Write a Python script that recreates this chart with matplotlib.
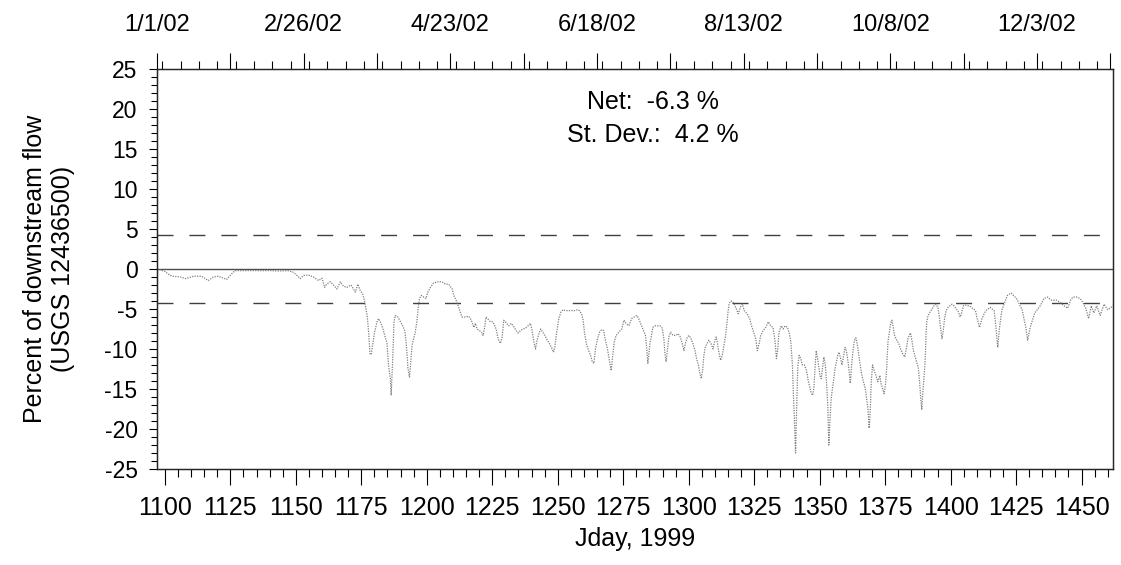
#!/usr/bin/env python

import numpy as np
import matplotlib
matplotlib.use('Agg')
import matplotlib.pyplot as plt
from matplotlib.ticker import MultipleLocator, FixedLocator, FuncFormatter

plt.rcParams['font.family'] = ['Liberation Sans', 'DejaVu Sans']
plt.rcParams['axes.unicode_minus'] = False

# flow difference as percent of downstream gauge, by julian day (1999 base)
jday = [1097, 1098, 1100, 1102, 1103, 1106, 1108, 1111, 1114, 1116.6, 1118.5, 1120.4,
        1123.6, 1125.5, 1126.8, 1129.3, 1133, 1137, 1140.8, 1143.3, 1147, 1149, 1150.4,
        1151.7, 1153, 1154.8, 1156.7, 1158.7, 1160, 1161, 1161.8, 1163.1, 1164.4, 1165.7,
        1167, 1168.2, 1169.5, 1171.1, 1172.7, 1173.7, 1174.6, 1175.5, 1176.2, 1176.8,
        1177.3, 1177.8, 1178.3, 1178.8, 1179.3, 1180.1, 1181, 1181.6, 1182.2, 1183.1,
        1184.1, 1184.8, 1185.4, 1186.1, 1186.4, 1186.9, 1187.2, 1187.5, 1188, 1189, 1190,
        1190.8, 1191.6, 1192.1, 1192.5, 1192.8, 1193.4, 1193.9, 1194.4, 1195, 1195.6,
        1196.2, 1196.7, 1197.2, 1197.9, 1198.8, 1199.7, 1200.4, 1201.4, 1202.6, 1204.3,
        1205.8, 1207.1, 1208.4, 1209.7, 1210.3, 1211.2, 1212, 1212.8, 1213.5, 1214.8,
        1216, 1217, 1218, 1218.6, 1219.2, 1220.1, 1220.9, 1221.5, 1222.1, 1222.6, 1223.2,
        1224.3, 1225.2, 1226, 1226.6, 1227.2, 1228.1, 1228.8, 1229.4, 1230, 1231.3,
        1232.3, 1233.4, 1234.1, 1234.9, 1235.8, 1236.7, 1237.7, 1238.7, 1239.6, 1240.2,
        1240.9, 1241.5, 1242.1, 1242.8, 1243.5, 1244.3, 1245.1, 1246, 1246.8, 1247.6,
        1248.4, 1248.9, 1249.4, 1249.9, 1250.4, 1251.2, 1251.9, 1253, 1254.2, 1255.5,
        1256.5, 1257.5, 1258.3, 1259.1, 1259.7, 1260.2, 1260.9, 1261.6, 1262.5, 1263.2,
        1263.8, 1264.4, 1265.2, 1266, 1266.7, 1267.5, 1268.2, 1269, 1269.8, 1270.4, 1271,
        1271.6, 1272.3, 1273.3, 1274.4, 1275.3, 1276.1, 1277.2, 1278.2, 1279.2, 1280.2,
        1281.2, 1281.6, 1282.5, 1283.5, 1284, 1284.4, 1284.8, 1285.3, 1285.8, 1286.3,
        1287.1, 1288.1, 1289.1, 1289.9, 1290.5, 1291, 1291.4, 1291.9, 1292.4, 1293.1,
        1294, 1295, 1296, 1296.8, 1297.5, 1298.2, 1298.8, 1299.5, 1300.1, 1300.9, 1301.6,
        1302.4, 1303, 1303.7, 1304.3, 1304.8, 1305.3, 1305.8, 1306.3, 1307, 1307.7,
        1308.5, 1309.3, 1310, 1310.5, 1311, 1311.5, 1312.2, 1312.8, 1313.5, 1314.1,
        1314.6, 1315, 1315.4, 1316, 1316.6, 1317.4, 1318.2, 1318.9, 1319.7, 1320.5,
        1321.2, 1322.3, 1323.3, 1324, 1324.8, 1325.6, 1326.2, 1326.9, 1327.5, 1328.4,
        1329.4, 1330.4, 1331.3, 1332.2, 1333, 1333.5, 1334, 1334.5, 1335.3, 1336.1,
        1336.8, 1337.7, 1338.3, 1339, 1339.6, 1340, 1340.4, 1340.8, 1341.1, 1341.4,
        1341.7, 1342.2, 1342.8, 1343.4, 1344.2, 1345, 1345.6, 1346.2, 1346.7, 1347.3,
        1347.8, 1348.3, 1348.7, 1349, 1349.6, 1350.1, 1350.6, 1351.1, 1351.6, 1352.1,
        1352.6, 1353.1, 1353.5, 1353.9, 1354.4, 1354.9, 1355.4, 1355.9, 1356.4, 1356.9,
        1357.4, 1358, 1358.5, 1359.2, 1359.7, 1360.2, 1361, 1361.7, 1362.3, 1362.8,
        1363.3, 1363.8, 1364.3, 1364.8, 1365.3, 1365.9, 1366.4, 1366.9, 1367.4, 1367.9,
        1368.4, 1368.9, 1369.3, 1369.7, 1370.2, 1370.8, 1371.5, 1372.2, 1373, 1373.4,
        1374, 1374.6, 1375.1, 1375.6, 1375.8, 1376.1, 1376.6, 1377.1, 1377.6, 1378.1,
        1378.6, 1379.4, 1380.2, 1380.9, 1381.7, 1382.5, 1383.2, 1383.7, 1384.2, 1384.7,
        1385.3, 1385.8, 1386.3, 1387, 1387.7, 1388.2, 1388.6, 1389, 1389.3, 1389.7,
        1390.1, 1390.4, 1390.6, 1390.9, 1391.4, 1392.1, 1392.9, 1393.7, 1394.4, 1395.2,
        1395.7, 1396.2, 1396.7, 1397.2, 1397.7, 1398.3, 1399, 1399.8, 1400.5, 1401.3,
        1402.1, 1402.8, 1403.6, 1404.1, 1404.9, 1405.6, 1406.4, 1407.2, 1407.9, 1408.7,
        1409.5, 1410, 1410.5, 1411, 1411.5, 1412, 1412.8, 1413.5, 1414.3, 1415.1, 1415.8,
        1416.6, 1417.1, 1417.6, 1418, 1418.6, 1419.6, 1421.7, 1423.1, 1425.2, 1427.3,
        1428.7, 1429.4, 1430.4, 1432.1, 1434.2, 1435.6, 1437, 1438.4, 1440.5, 1441.9,
        1443.3, 1444.7, 1445.8, 1446.7, 1448.1, 1449.5, 1450.5, 1451.6, 1452.7, 1453.7,
        1454.7, 1455.8, 1457.1, 1458.6, 1460, 1462]

pct = [0.0, -0.1, -0.3, -0.8, -0.9, -1.0, -1.2, -0.9, -0.9, -1.45, -1.0, -0.9,
       -1.3, -0.6, -0.2, -0.2, -0.2, -0.2, -0.2, -0.25, -0.2, -0.4, -0.8,
       -1.2, -0.8, -0.75, -1.0, -1.45, -1.15, -2.3, -1.9, -1.6, -2.0, -2.5,
       -1.6, -2.15, -2.3, -2.0, -2.9, -1.9, -2.7, -3.1, -3.9, -5.0,
       -6.0, -7.9, -10.6, -10.7, -9.5, -7.9, -6.6, -6.2, -6.6, -7.3,
       -8.5, -9.3, -12.0, -13.7, -15.8, -12.0, -9.1, -6.6, -5.8, -6.0, -6.6,
       -7.1, -7.7, -9.1, -10.8, -12.4, -13.5, -11.6, -9.5, -8.7, -7.9,
       -6.6, -5.0, -3.7, -3.3, -3.5, -3.7, -2.9, -2.3, -1.75, -1.6,
       -1.6, -1.9, -1.9, -2.5, -3.3, -3.9, -4.6, -5.4, -6.0, -6.0,
       -5.9, -6.4, -7.3, -6.8, -7.5, -7.7, -7.9, -8.3, -7.3, -6.0, -6.2,
       -6.6, -6.6, -7.1, -7.7, -8.7, -9.3, -8.5, -6.4, -6.6, -7.1,
       -6.8, -7.3, -7.7, -8.0, -7.7, -7.5, -7.4, -7.1, -6.8, -7.7,
       -9.1, -10.0, -8.9, -8.1, -7.5, -7.9, -8.3, -8.9, -9.3, -9.8,
       -10.4, -9.8, -8.3, -7.3, -6.2, -5.4, -5.1, -5.2, -5.2, -5.2,
       -5.2, -5.1, -5.2, -5.6, -6.4, -7.9, -9.3, -10.0, -10.8, -11.6,
       -11.8, -10.0, -8.7, -7.9, -7.6, -7.7, -8.9, -10.0, -11.6, -12.7, -10.8,
       -9.1, -8.3, -7.9, -7.5, -6.4, -6.8, -7.1, -6.2, -6.0, -5.8,
       -6.4, -6.8, -7.5, -8.3, -10.0, -11.8, -10.6, -9.1, -8.3, -7.3,
       -7.1, -7.1, -7.1, -7.4, -8.7, -10.8, -11.6, -10.0, -8.5, -7.9,
       -8.3, -8.3, -8.1, -8.5, -9.3, -10.2, -9.2, -8.5, -8.3, -8.7, -9.3,
       -10.2, -11.2, -12.0, -13.1, -13.7, -12.7, -10.8, -9.8, -9.3, -8.9,
       -9.3, -10.0, -8.9, -8.5, -9.3, -10.4, -11.4, -10.8, -9.5, -8.3,
       -6.8, -5.4, -4.4, -4.0, -4.0, -4.4, -5.0, -5.6, -4.8, -4.4,
       -5.2, -5.6, -6.2, -7.1, -7.9, -8.7, -10.2, -9.3, -8.3, -7.7,
       -7.3, -6.6, -7.1, -7.3, -9.1, -11.2, -10.0, -7.9, -7.1, -7.5,
       -7.1, -7.3, -7.9, -9.1, -12.0, -15.8, -19.1, -23.0, -19.1, -15.0,
       -12.0, -10.8, -11.2, -12.0, -12.0, -12.7, -13.9, -14.7, -15.4, -15.8,
       -14.9, -12.0, -10.2, -10.8, -12.0, -13.3, -13.7, -12.4, -11.0, -11.8,
       -14.1, -17.0, -22.0, -19.1, -16.2, -14.9, -13.7, -12.4, -11.6, -10.8,
       -10.4, -11.2, -12.0, -10.8, -9.8, -10.2, -12.0, -14.3, -11.6, -10.0,
       -8.9, -8.6, -9.3, -10.4, -11.6, -12.9, -13.7, -14.3, -14.9, -16.2,
       -17.4, -19.9, -17.8, -14.1, -12.0, -12.7, -13.3, -14.1, -13.3, -14.3,
       -14.9, -15.6, -14.5, -12.4, -10.8, -9.1, -7.9, -6.8, -6.4, -7.3,
       -8.3, -8.9, -9.3, -10.0, -10.6, -11.0, -9.8, -8.7, -8.3, -8.0,
       -9.1, -10.2, -10.8, -11.6, -12.4, -14.3, -16.2, -17.6, -15.8, -14.1,
       -12.4, -10.4, -8.3, -6.6, -5.8, -5.4, -5.0, -4.6, -4.4, -4.8,
       -6.0, -7.5, -8.7, -7.7, -6.2, -5.2, -4.8, -4.6, -4.4, -4.6,
       -5.0, -5.2, -6.0, -5.6, -4.6, -4.5, -4.6, -4.6, -4.8, -5.0,
       -5.2, -6.0, -6.6, -7.3, -6.8, -6.2, -5.6, -5.2, -5.0, -4.8, -5.0,
       -5.2, -6.6, -8.3, -9.8, -7.5, -5.1, -3.3, -3.0, -3.7, -5.1,
       -7.3, -8.9, -7.3, -5.5, -4.6, -3.7, -3.5, -3.9, -3.9, -4.2,
       -4.6, -4.9, -3.9, -3.5, -3.5, -3.7, -4.2, -4.9, -6.2, -4.6,
       -5.5, -4.6, -5.8, -4.4, -5.1, -4.6]

net = -6.3
stdev = 4.2

# top axis: calendar dates every 8 weeks starting jday 1097
date_ticks = [1097, 1153, 1209, 1265, 1321, 1377, 1433]
date_labels = ['1/1/02', '2/26/02', '4/23/02', '6/18/02', '8/13/02', '10/8/02', '12/3/02']

fig = plt.figure(figsize=(11.21, 5.65), dpi=100)
ax = fig.add_axes([157/1121, 1 - 469/565, 956/1121, 400/565])

ax.axhline(0, color='0.3', lw=1.0)
for s in (stdev, -stdev):
    ax.axhline(s, color='0.25', lw=1.0, dashes=(11.5, 11.5))
ax.plot(jday, pct, color='0.5', lw=0.9, ls=(0, (1, 1)))

ax.set_xlim(1097, 1462)
ax.set_ylim(-25, 25)

ax.xaxis.set_major_locator(MultipleLocator(25))
ax.xaxis.set_minor_locator(MultipleLocator(5))
ax.yaxis.set_major_locator(MultipleLocator(5))
ax.yaxis.set_minor_locator(MultipleLocator(1))
ax.tick_params(axis='x', which='major', length=11.5, width=0.8, pad=8, labelsize=18)
ax.tick_params(axis='x', which='minor', length=6, width=0.8)
ax.tick_params(axis='y', which='major', length=6, width=0.8, pad=8, labelsize=16.5)
ax.tick_params(axis='y', which='minor', length=4.5, width=0.8)

top = ax.twiny()
top.set_xlim(ax.get_xlim())
top.xaxis.set_major_locator(FixedLocator(np.arange(1097, 1463, 28)))
top.xaxis.set_minor_locator(MultipleLocator(7))
date_map = dict(zip(date_ticks, date_labels))
top.xaxis.set_major_formatter(FuncFormatter(lambda v, i: date_map.get(int(round(v)), '')))
top.tick_params(axis='x', which='major', length=11.5, width=0.8, pad=12, labelsize=17)
top.tick_params(axis='x', which='minor', length=6, width=0.8)

for a in (ax, top):
    for sp in a.spines.values():
        sp.set_linewidth(0.9)
        sp.set_color('0.15')

ax.set_xlabel('Jday, 1999', fontsize=18)
ax.xaxis.set_label_coords(0.5, -0.145)
ax.set_ylabel('Percent of downstream flow\n(USGS 12436500)', fontsize=18)
ax.yaxis.set_label_coords(-0.086, 0.5)

ax.text(0.519, 0.9175, f'Net:  {net} %', transform=ax.transAxes,
        ha='center', va='center', fontsize=18)
ax.text(0.519, 0.835, f'St. Dev.:  {stdev} %', transform=ax.transAxes,
        ha='center', va='center', fontsize=18)

fig.savefig('out.png', dpi=100)
